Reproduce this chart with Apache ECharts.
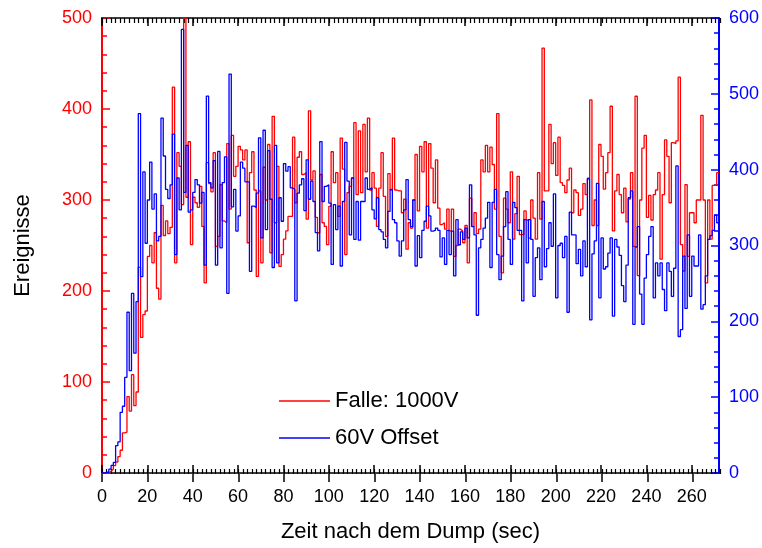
<!DOCTYPE html>
<html>
<head>
<meta charset="utf-8">
<script src="https://cdn.jsdelivr.net/npm/echarts@6/dist/echarts.min.js"></script>
<style>
  html, body { margin: 0; padding: 0; background: #fff; }
  #chart { width: 762px; height: 548px; }
</style>
</head>
<body>
<div id="chart"></div>
<script>
// Events per 1-second bin after the dump, bin i covers [i, i+1) s
const binWidth = 1;

// "Falle: 1000V" (left axis)
const falleCounts = [
  0, 0, 0, 2, 4, 8, 12, 18, 25, 44,
  45, 84, 68, 108, 74, 89, 226, 149, 174, 178,
  238, 250, 231, 264, 203, 191, 294, 261, 277, 263,
  270, 424, 231, 352, 337, 295, 500, 303, 364, 251,
  303, 297, 292, 315, 271, 209, 341, 318, 309, 352,
  249, 260, 317, 277, 275, 362, 290, 371, 326, 337,
  359, 355, 344, 355, 253, 330, 353, 311, 216, 310,
  231, 336, 300, 361, 242, 392, 275, 337, 227, 240,
  257, 266, 282, 282, 369, 297, 347, 353, 328, 330,
  279, 398, 322, 332, 281, 264, 328, 275, 271, 251,
  293, 353, 319, 330, 282, 368, 334, 240, 308, 315,
  324, 385, 306, 376, 308, 383, 331, 390, 311, 330,
  313, 271, 313, 352, 304, 260, 329, 311, 368, 311,
  310, 310, 286, 301, 246, 275, 269, 300, 350, 288,
  359, 331, 364, 269, 362, 335, 297, 344, 291, 273,
  275, 268, 290, 266, 290, 238, 250, 268, 266, 253,
  272, 231, 302, 271, 286, 263, 268, 344, 331, 360,
  331, 358, 339, 290, 395, 260, 220, 302, 290, 275,
  331, 257, 285, 326, 262, 262, 288, 278, 258, 300,
  280, 257, 330, 279, 467, 310, 310, 383, 340, 363,
  327, 369, 319, 316, 308, 322, 335, 286, 311, 308,
  283, 290, 318, 306, 324, 410, 272, 300, 272, 361,
  348, 312, 330, 352, 403, 266, 310, 328, 306, 286,
  313, 276, 301, 330, 249, 414, 217, 300, 357, 371,
  281, 305, 278, 306, 311, 330, 235, 306, 366, 348,
  297, 363, 362, 365, 435, 251, 222, 317, 238, 286,
  286, 275, 300, 300, 393, 300, 209, 300, 257, 316,
  316, 330
];

// "60V Offset" (right axis)
const offsetCounts = [
  0, 1, 1, 5, 10, 14, 36, 41, 80, 88,
  126, 212, 135, 237, 158, 226, 474, 259, 397, 303,
  360, 410, 348, 368, 306, 312, 468, 418, 374, 362,
  380, 447, 288, 389, 347, 585, 370, 432, 344, 347,
  370, 387, 380, 356, 370, 274, 497, 383, 376, 412,
  274, 424, 297, 383, 417, 237, 526, 351, 374, 319,
  339, 410, 402, 384, 384, 266, 352, 350, 369, 442,
  310, 452, 321, 425, 361, 271, 432, 277, 363, 332,
  408, 398, 404, 376, 374, 227, 369, 380, 388, 346,
  413, 361, 385, 358, 317, 293, 437, 358, 378, 380,
  356, 275, 354, 321, 352, 273, 358, 436, 385, 314,
  389, 308, 358, 307, 358, 358, 389, 374, 376, 347,
  335, 363, 321, 318, 308, 297, 345, 374, 334, 330,
  306, 286, 306, 347, 387, 334, 325, 360, 273, 313,
  284, 320, 332, 352, 339, 319, 320, 323, 320, 285,
  310, 275, 320, 288, 319, 260, 334, 301, 318, 308,
  323, 310, 380, 325, 314, 208, 297, 308, 323, 336,
  357, 271, 357, 374, 288, 255, 286, 325, 371, 308,
  275, 357, 350, 320, 320, 227, 334, 277, 334, 308,
  233, 284, 297, 255, 358, 272, 296, 330, 299, 368,
  231, 300, 303, 284, 312, 212, 344, 314, 314, 276,
  295, 260, 306, 272, 388, 202, 289, 306, 382, 231,
  310, 269, 272, 290, 310, 207, 308, 298, 287, 247,
  226, 274, 363, 372, 196, 298, 325, 236, 196, 257,
  288, 312, 325, 231, 277, 260, 277, 242, 214, 277,
  266, 233, 270, 405, 180, 189, 286, 217, 314, 233,
  286, 273, 273, 314, 216, 222, 260, 308, 313, 320,
  340, 330
];

const seriesNames = ['Falle: 1000V', '60V Offset'];
const timeTicks = [0, 20, 40, 60, 80, 100, 120, 140, 160, 180, 200, 220, 240, 260];
const leftTicks = [0, 100, 200, 300, 400, 500];
const rightTicks = [0, 100, 200, 300, 400, 500, 600];

const FONT = '"Liberation Sans", Arial, sans-serif';
const RED = '#ff0000';
const BLUE = '#0000ff';
const tMax = falleCounts.length * binWidth;

// histogram bins -> step points, with a closing point at the right edge
function toSteps(counts) {
  const pts = counts.map((v, i) => [i * binWidth, v]);
  pts.push([counts.length * binWidth, counts[counts.length - 1]]);
  return pts;
}

const box = { left: 102, right: 42, top: 18, bottom: 74 };

// major time ticks (grid 0 carries the data, labels and frame lines)
function majorX(pos, labels) {
  return {
    gridIndex: 0, type: 'value', position: pos, min: 0, max: tMax, interval: 20,
    axisLine: { onZero: false, lineStyle: { color: '#000', width: 1.5 } },
    axisTick: { inside: true, length: 8, customValues: timeTicks, lineStyle: { color: '#000', width: 1.5 } },
    axisLabel: labels ? {
      customValues: timeTicks, margin: 15, fontFamily: FONT, fontSize: 18, color: '#000'
    } : { show: false },
    splitLine: { show: false }
  };
}
// 2-second minor ticks on the bottom and top edges (grid 1)
function minorX(pos) {
  return {
    gridIndex: 1, type: 'value', position: pos, min: 0, max: tMax, interval: 2,
    axisLine: { show: false, onZero: false },
    axisTick: { show: true, inside: true, length: 5, lineStyle: { color: '#000', width: 1.2 } },
    axisLabel: { show: false },
    splitLine: { show: false }
  };
}
// outward half of the major ticks on the bottom edge (grid 2)
const outerX = {
  gridIndex: 2, type: 'value', position: 'bottom', min: 0, max: tMax, interval: 20,
  axisLine: { show: false, onZero: false },
  axisTick: { show: true, inside: false, length: 8, customValues: timeTicks, lineStyle: { color: '#000', width: 1.5 } },
  axisLabel: { show: false },
  splitLine: { show: false }
};
function valueY(pos, max, color, ticks) {
  return {
    gridIndex: 0, type: 'value', position: pos, min: 0, max: max, interval: 100,
    axisLine: { show: true, onZero: false, lineStyle: { color: color, width: 2 } },
    axisTick: { show: true, inside: true, length: 8, customValues: ticks, lineStyle: { color: color, width: 1.5 } },
    minorTick: { show: true, splitNumber: 5, length: 5, lineStyle: { color: color, width: 1.5 } },
    axisLabel: { customValues: ticks, margin: 10, fontFamily: FONT, fontSize: 18, color: color },
    splitLine: { show: false }
  };
}

const xAxes = [majorX('bottom', true), majorX('top', false), minorX('bottom'), minorX('top'), outerX];
xAxes[0].name = 'Zeit nach dem Dump (sec)';
xAxes[0].nameLocation = 'middle';
xAxes[0].nameGap = 48;
xAxes[0].nameTextStyle = { fontFamily: FONT, fontSize: 22, color: '#000' };

const yLeft = valueY('left', 500, RED, leftTicks);
yLeft.name = 'Ereignisse';
yLeft.nameLocation = 'middle';
yLeft.nameGap = 68;
yLeft.nameTextStyle = { fontFamily: FONT, fontSize: 22, color: '#000' };
const yRight = valueY('right', 600, BLUE, rightTicks);

const chart = echarts.init(document.getElementById('chart'), null, { renderer: 'canvas' });
chart.setOption({
  animation: false,
  backgroundColor: '#fff',
  grid: [Object.assign({}, box), Object.assign({}, box), Object.assign({}, box)],
  legend: {
    data: seriesNames,
    orient: 'vertical',
    left: 279, top: 390,
    padding: 0,
    icon: 'rect',
    itemWidth: 51, itemHeight: 1.5, itemGap: 15,
    textStyle: { fontFamily: FONT, fontSize: 22, color: '#000' }
  },
  xAxis: xAxes,
  yAxis: [
    yLeft, yRight,
    { gridIndex: 1, type: 'value', min: 0, max: 1, show: false },
    { gridIndex: 2, type: 'value', min: 0, max: 1, show: false }
  ],
  series: [
    {
      name: seriesNames[0], type: 'line', xAxisIndex: 0, yAxisIndex: 0,
      step: 'end', symbol: 'none', data: toSteps(falleCounts),
      lineStyle: { color: RED, width: 1.3 }, itemStyle: { color: RED }
    },
    {
      name: seriesNames[1], type: 'line', xAxisIndex: 0, yAxisIndex: 1,
      step: 'end', symbol: 'none', data: toSteps(offsetCounts),
      lineStyle: { color: BLUE, width: 1.3 }, itemStyle: { color: BLUE }
    }
  ]
});
</script>
</body>
</html>
